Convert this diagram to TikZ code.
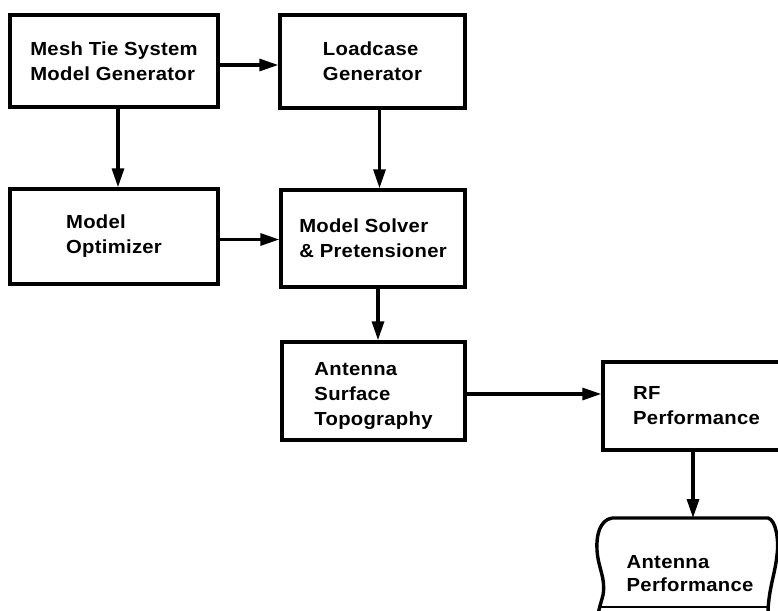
\documentclass[tikz,border=0pt]{standalone}
\usepackage{fontspec}
\setmainfont{Liberation Sans}[FakeStretch=1.07,LetterSpace=1.5]
\usetikzlibrary{arrows.meta}
\begin{document}
\begin{tikzpicture}[x=1bp,y=-1bp,
  boxnode/.style={draw,line width=3.4bp,rectangle,align=left,inner sep=0pt,
    font=\fontsize{19}{25}\selectfont\bfseries},
  txt/.style={align=left,inner sep=0pt,font=\fontsize{19}{23}\selectfont\bfseries},
  arr/.style={line width=3.2bp,-{Triangle[length=19bp,width=12bp]}},
  edge/.style={line width=3.4bp}]
\useasboundingbox (0,0) rectangle (778,611);
\clip (0,0) rectangle (778,611);
\node[boxnode,minimum width=208bp,minimum height=92bp] (b1) at (114,61) {Mesh Tie System\\Model Generator};
\node[boxnode,minimum width=185bp,minimum height=93bp] (b2) at (372.5,61.5) {Loadcase\\Generator};
\node[boxnode,minimum width=208bp,minimum height=95bp] (b3) at (114,236.5) {Model\\Optimizer};
\node[boxnode,minimum width=184bp,minimum height=97bp] (b4) at (373,238.5) {Model Solver\\\& Pretensioner};
\node[boxnode,minimum width=183bp,minimum height=98bp] (b5) at (373.5,391) {};
\node[txt,font=\fontsize{19}{25}\selectfont\bfseries] (b5t) at (373.5,396) {Antenna\\Surface\\Topography};
\node[boxnode,minimum width=187bp,minimum height=88bp] (b6) at (696.5,406) {RF\\Performance};
\node[txt] (b7) at (690,574) {Antenna\\Performance};
\coordinate (b7top) at (693,518);
\draw[edge,line join=round] (612,518) -- (768,518)
  .. controls (776,520) and (779,540) .. (777,555)
  .. controls (775,575) and (768,590) .. (768,615);
\draw[edge,line join=round] (612,518) .. controls (600,520) and (596,535) .. (597,550)
  .. controls (598,568) and (606,578) .. (603,595)
  .. controls (601,603) and (599,608) .. (598,615);
\draw[line width=2.4bp] (599,607) -- (770,607);
\draw[arr] ([yshift=-4bp]b1.east) -- ([yshift=-4bp]b1.east -| b2.west);
\draw[arr] ([xshift=4bp]b1.south) -- ([xshift=4bp]b1.south |- b3.north);
\draw[arr] ([xshift=7bp]b2.south) -- ([xshift=7bp]b2.south |- b4.north);
\draw[arr] ([yshift=-3bp]b3.east) -- ([yshift=-3bp]b3.east -| b4.west);
\draw[arr] ([xshift=5bp]b4.south) -- ([xshift=5bp]b4.south |- b5.north);
\draw[arr] ([yshift=-3bp]b5.east) -- ([yshift=-3bp]b5.east -| b6.west);
\draw[arr] (b6.south -| b7top) -- (b7top);
\end{tikzpicture}
\end{document}
